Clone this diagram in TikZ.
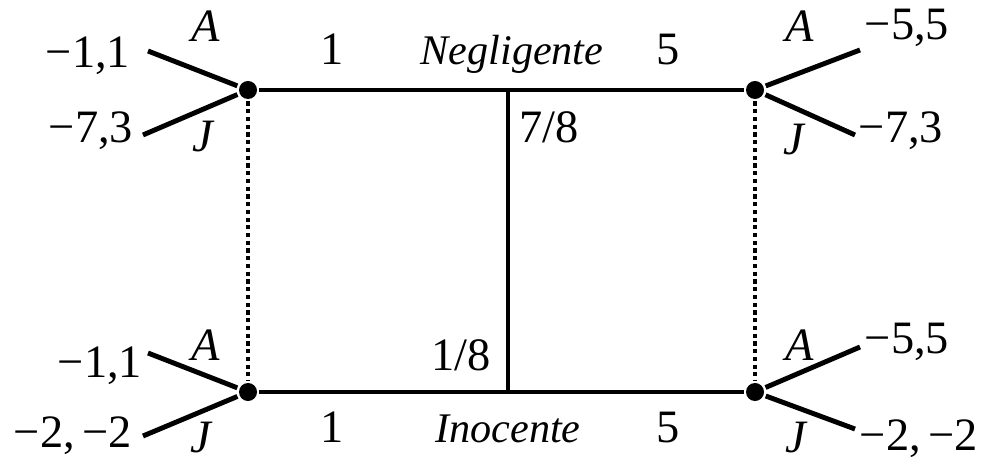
\documentclass[tikz,border=0pt]{standalone}
\usepackage{fontspec}
\setmainfont{Liberation Serif}

\begin{document}
\begin{tikzpicture}[x=0.01cm, y=-0.01cm, line width=1.4pt,
	every node/.style={font=\fontsize{13.2}{15}\selectfont, inner sep=0pt, anchor=base},
	word/.style={font=\fontsize{12}{14}\selectfont\itshape},
	dec/.style={circle, fill, inner sep=0pt, minimum size=0.18cm, anchor=center},
	info/.style={line width=1.1pt, dash pattern=on 1.2pt off 1pt}]
	\useasboundingbox (0,0) rectangle (989,458);
	% decision nodes
	\node[dec] (negL) at (248,90) {};
	\node[dec] (negR) at (755,90) {};
	\node[dec] (inoL) at (248,392) {};
	\node[dec] (inoR) at (755,392) {};
	\coordinate (negM) at (508,90);
	\coordinate (inoM) at (508,392);
	\draw (negL) -- (negM) -- (negR);
	\draw (inoL) -- (inoM) -- (inoR);
	\draw (negM) -- (inoM);
	\draw[info] (negL) -- (inoL);
	\draw[info] (negR) -- (inoR);
	% branch ends
	\coordinate (negLA) at (148,51);
	\coordinate (negLJ) at (143,135);
	\coordinate (negRA) at (860,50);
	\coordinate (negRJ) at (855,135);
	\coordinate (inoLA) at (148,353);
	\coordinate (inoLJ) at (143,436);
	\coordinate (inoRA) at (860,347);
	\coordinate (inoRJ) at (855,429);
	\draw (negL) -- (negLA);
	\draw (negL) -- (negLJ);
	\draw (negR) -- (negRA);
	\draw (negR) -- (negRJ);
	\draw (inoL) -- (inoLA);
	\draw (inoL) -- (inoLJ);
	\draw (inoR) -- (inoRA);
	\draw (inoR) -- (inoRJ);
	% actions
	\node (tNegLA) at (206,42) {\textit{A}};
	\node (tNegLJ) at (204,152) {\textit{J}};
	\node (tNegRA) at (800,42) {\textit{A}};
	\node (tNegRJ) at (795,155) {\textit{J}};
	\node (tInoLA) at (206,360) {\textit{A}};
	\node (tInoLJ) at (202,452) {\textit{J}};
	\node (tInoRA) at (800,360) {\textit{A}};
	\node (tInoRJ) at (797,452) {\textit{J}};
	% payoffs
	\node (pNegLA) at (88,68) {−1,1};
	\node (pNegLJ) at (91,143) {−7,3};
	\node (pNegRA) at (907,40) {−5,5};
	\node (pNegRJ) at (901,143) {−7,3};
	\node (pInoLA) at (100,377) {−1,1};
	\node (pInoLJ) at (73,447) {−2,\,−2};
	\node (pInoRA) at (907,353) {−5,5};
	\node (pInoRJ) at (919,450) {−2,\,−2};
	% nature
	\node (tOneN) at (332,65) {1};
	\node[word] (tNeg) at (512,65) {Negligente};
	\node (tFiveN) at (668,65) {5};
	\node (pNeg) at (549,143) {7/8};
	\node (pIno) at (461,370) {1/8};
	\node (tOneI) at (332,442) {1};
	\node[word] (tIno) at (508,442) {Inocente};
	\node (tFiveI) at (668,442) {5};
\end{tikzpicture}
\end{document}
